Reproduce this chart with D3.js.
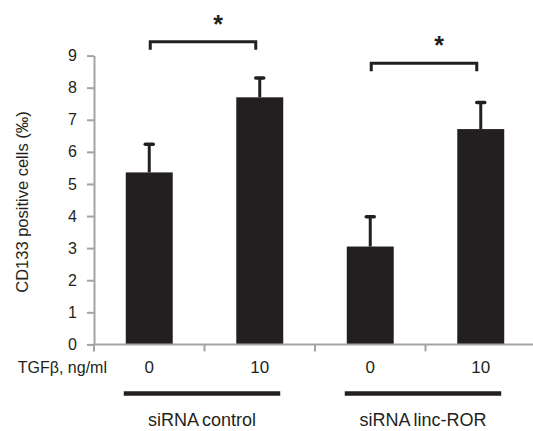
<!DOCTYPE html>
<html>
<head>
<meta charset="utf-8">
<script src="https://cdn.jsdelivr.net/npm/d3@7"></script>
<style>
  body { margin: 0; background: #fff; }
  text { font-family: "Liberation Sans", Arial, sans-serif; fill: #231f20; }
</style>
</head>
<body>
<svg id="chart"></svg>
<script>
// data
const categories = ['ctrl_0', 'ctrl_10', 'ror_0', 'ror_10'];
const doseLabels = ['0', '10', '0', '10'];
const means = [5.36, 7.70, 3.05, 6.71];
const errTops = [6.24, 8.30, 3.98, 7.54];
const yTicks = [0, 1, 2, 3, 4, 5, 6, 7, 8, 9];
const groups = [
  {name: 'siRNA control', from: 'ctrl_0', to: 'ctrl_10'},
  {name: 'siRNA linc-ROR', from: 'ror_0', to: 'ror_10'}
];
// significance brackets (value = height of the bar line)
const brackets = [
  {from: 'ctrl_0', to: 'ctrl_10', value: 9.43, label: '*'},
  {from: 'ror_0', to: 'ror_10', value: 8.76, label: '*'}
];

const width = 533, height = 431;
const margin = {top: 55.6, right: -3, bottom: 86.6, left: 94};
const dark = '#231f20', grey = '#a3a3a3';

const svg = d3.select('#chart')
    .attr('width', width)
    .attr('height', height);

const x = d3.scaleBand()
    .domain(categories)
    .range([margin.left, width - margin.right])
    .paddingInner(0.575)
    .paddingOuter(0.2875);

const y = d3.scaleLinear()
    .domain([0, 9])
    .range([height - margin.bottom, margin.top]);

const data = categories.map((c, i) => ({key: c, mean: means[i], top: errTops[i], label: doseLabels[i]}));

// y axis
const yAxisG = svg.append('g')
    .attr('transform', `translate(${margin.left},0)`)
    .call(d3.axisLeft(y).tickValues(yTicks).tickSize(7).tickSizeOuter(0).tickPadding(10));
yAxisG.select('.domain').attr('stroke', grey).attr('stroke-width', 2);
yAxisG.selectAll('.tick line').attr('stroke', grey).attr('stroke-width', 2);
yAxisG.selectAll('.tick text').style('font-size', '16px').attr('fill', dark);

svg.append('text')
    .attr('transform', `translate(24,${y(4.5) + 2}) rotate(-90)`)
    .attr('text-anchor', 'middle')
    .attr('dominant-baseline', 'middle')
    .style('font-size', '16.5px')
    .text('CD133 positive cells (‰)');

// bars
svg.selectAll('.bar')
    .data(data)
    .join('rect')
    .attr('class', 'bar')
    .attr('x', d => x(d.key))
    .attr('width', x.bandwidth())
    .attr('y', d => y(d.mean))
    .attr('height', d => y(0) - y(d.mean))
    .attr('fill', dark);

// error bars (upper only)
svg.selectAll('.err')
    .data(data)
    .join('line')
    .attr('class', 'err')
    .attr('x1', d => x(d.key) + x.bandwidth() / 2)
    .attr('x2', d => x(d.key) + x.bandwidth() / 2)
    .attr('y1', d => y(d.mean))
    .attr('y2', d => y(d.top))
    .attr('stroke', dark)
    .attr('stroke-width', 3);

svg.selectAll('.cap')
    .data(data)
    .join('line')
    .attr('class', 'cap')
    .attr('x1', d => x(d.key) + x.bandwidth() / 2 - 4)
    .attr('x2', d => x(d.key) + x.bandwidth() / 2 + 4)
    .attr('y1', d => y(d.top))
    .attr('y2', d => y(d.top))
    .attr('stroke', dark)
    .attr('stroke-width', 3.5)
    .attr('stroke-linecap', 'round');

// x axis: line with ticks at the band boundaries
const y0 = y(0);
svg.append('line')
    .attr('x1', margin.left).attr('x2', width)
    .attr('y1', y0).attr('y2', y0)
    .attr('stroke', grey).attr('stroke-width', 2);

const bounds = categories.map(c => x(c) - (x.step() - x.bandwidth()) / 2);
svg.selectAll('.xtick')
    .data(bounds)
    .join('line')
    .attr('class', 'xtick')
    .attr('x1', d => d).attr('x2', d => d)
    .attr('y1', y0).attr('y2', y0 + 7)
    .attr('stroke', grey).attr('stroke-width', 2);

svg.selectAll('.dose')
    .data(data)
    .join('text')
    .attr('class', 'dose')
    .attr('x', d => x(d.key) + x.bandwidth() / 2)
    .attr('y', y0 + 29)
    .attr('text-anchor', 'middle')
    .style('font-size', '17px')
    .text(d => d.label);

svg.append('text')
    .attr('x', 107)
    .attr('y', y0 + 29)
    .attr('text-anchor', 'end')
    .style('font-size', '16px')
    .text('TGFβ, ng/ml');

// group underlines and names
groups.forEach(g => {
  const x1 = x(g.from) - 2, x2 = x(g.to) + x.bandwidth() - 3;
  svg.append('line')
      .attr('x1', x1).attr('x2', x2)
      .attr('y1', y0 + 49).attr('y2', y0 + 49)
      .attr('stroke', dark).attr('stroke-width', 4.5);
  svg.append('text')
      .attr('x', (x1 + x2) / 2)
      .attr('y', y0 + 82)
      .attr('text-anchor', 'middle')
      .style('font-size', '18px')
      .style('word-spacing', '-1px')
      .text(g.name);
});

// significance brackets
brackets.forEach(b => {
  const x1 = x(b.from) + x.bandwidth() / 2 + 1;
  const x2 = x(b.to) + x.bandwidth() / 2 - 4;
  const yb = y(b.value);
  svg.append('path')
      .attr('d', `M${x1},${yb + 8}V${yb}H${x2}V${yb + 8}`)
      .attr('fill', 'none')
      .attr('stroke', dark)
      .attr('stroke-width', 3);
  svg.append('text')
      .attr('x', (x1 + x2) / 2 + 15)
      .attr('y', yb - 9)
      .attr('text-anchor', 'middle')
      .style('font-size', '25px')
      .style('font-weight', 'bold')
      .text(b.label);
});
</script>
</body>
</html>
